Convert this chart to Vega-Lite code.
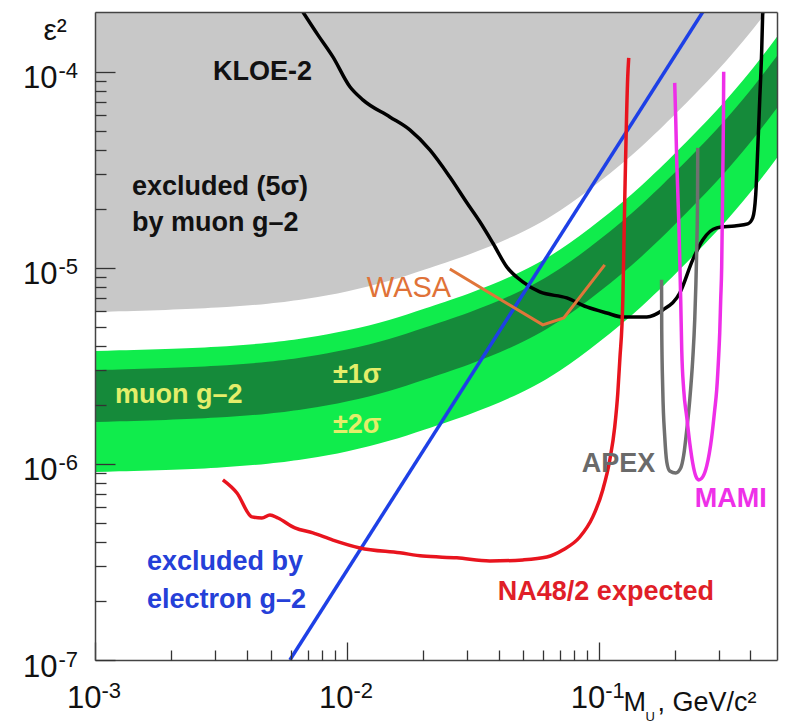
{
  "$schema": "https://vega.github.io/schema/vega-lite/v6.json",
  "width": 682,
  "height": 648,
  "autosize": {"type": "none"},
  "padding": {"left": 95, "top": 12, "right": 10, "bottom": 68},
  "background": "white",
  "config": {
    "view": {"stroke": null},
    "axis": {"labelFont": "Liberation Sans", "titleFont": "Liberation Sans", "grid": false, "labelOverlap": false, "labelFlush": false, "labelColor": "#111", "titleColor": "#111", "titleFontWeight": "normal", "tickColor": "#333", "domainColor": "#444", "domainWidth": 1.5, "tickWidth": 1.3}
  },
  "datasets": {
    "bands": [
      {"m": 0.001, "g": 5.96e-6, "lt": 3.77e-6, "dt": 3.01e-6, "db": 1.637e-6, "lb": 9.10e-7},
      {"m": 0.002, "g": 6.10e-6, "lt": 3.86e-6, "dt": 3.09e-6, "db": 1.676e-6, "lb": 9.31e-7},
      {"m": 0.003, "g": 6.25e-6, "lt": 3.95e-6, "dt": 3.16e-6, "db": 1.717e-6, "lb": 9.54e-7},
      {"m": 0.005, "g": 6.55e-6, "lt": 4.14e-6, "dt": 3.31e-6, "db": 1.799e-6, "lb": 1.00e-6},
      {"m": 0.007, "g": 6.95e-6, "lt": 4.40e-6, "dt": 3.52e-6, "db": 1.909e-6, "lb": 1.061e-6},
      {"m": 0.01, "g": 7.54e-6, "lt": 4.77e-6, "dt": 3.81e-6, "db": 2.071e-6, "lb": 1.151e-6},
      {"m": 0.015, "g": 8.59e-6, "lt": 5.43e-6, "dt": 4.34e-6, "db": 2.36e-6, "lb": 1.312e-6},
      {"m": 0.02, "g": 9.77e-6, "lt": 6.18e-6, "dt": 4.94e-6, "db": 2.684e-6, "lb": 1.492e-6},
      {"m": 0.03, "g": 1.151e-5, "lt": 7.28e-6, "dt": 5.82e-6, "db": 3.162e-6, "lb": 1.758e-6},
      {"m": 0.05, "g": 1.509e-5, "lt": 9.54e-6, "dt": 7.63e-6, "db": 4.145e-6, "lb": 2.304e-6},
      {"m": 0.07, "g": 1.931e-5, "lt": 1.221e-5, "dt": 9.77e-6, "db": 5.30e-6, "lb": 2.949e-6},
      {"m": 0.1, "g": 2.715e-5, "lt": 1.717e-5, "dt": 1.373e-5, "db": 7.46e-6, "lb": 4.146e-6},
      {"m": 0.15, "g": 4.19e-5, "lt": 2.65e-5, "dt": 2.119e-5, "db": 1.151e-5, "lb": 6.40e-6},
      {"m": 0.2, "g": 6.03e-5, "lt": 3.814e-5, "dt": 3.05e-5, "db": 1.656e-5, "lb": 9.21e-6},
      {"m": 0.3, "g": 1.024e-4, "lt": 6.48e-5, "dt": 5.18e-5, "db": 2.813e-5, "lb": 1.564e-5},
      {"m": 0.4, "g": 1.581e-4, "lt": 1.0e-4, "dt": 8.0e-5, "db": 4.34e-5, "lb": 2.414e-5},
      {"m": 0.51, "g": 2.385e-4, "lt": 1.509e-4, "dt": 1.206e-4, "db": 6.55e-5, "lb": 3.642e-5}
    ],
    "kloe": [
      {"m": 0.00669, "v": 2.02e-4}, {"m": 0.00767, "v": 1.544e-4}, {"m": 0.0088, "v": 1.192e-4},
      {"m": 0.01028, "v": 8.39e-5}, {"m": 0.01157, "v": 7.2e-5}, {"m": 0.01481, "v": 5.89e-5},
      {"m": 0.01778, "v": 5.06e-5}, {"m": 0.02135, "v": 4.0e-5}, {"m": 0.02563, "v": 2.91e-5},
      {"m": 0.02995, "v": 2.15e-5}, {"m": 0.03372, "v": 1.72e-5}, {"m": 0.03797, "v": 1.34e-5},
      {"m": 0.04313, "v": 1.012e-5}, {"m": 0.04993, "v": 8.48e-6}, {"m": 0.05833, "v": 7.54e-6},
      {"m": 0.07464, "v": 7.03e-6}, {"m": 0.08961, "v": 6.32e-6}, {"m": 0.1076, "v": 5.89e-6},
      {"m": 0.1246, "v": 5.62e-6}, {"m": 0.1551, "v": 5.62e-6}, {"m": 0.1795, "v": 6.10e-6},
      {"m": 0.2097, "v": 7.45e-6}, {"m": 0.236, "v": 1.099e-5}, {"m": 0.2587, "v": 1.389e-5},
      {"m": 0.2939, "v": 1.6e-5}, {"m": 0.3465, "v": 1.638e-5}, {"m": 0.3903, "v": 1.677e-5},
      {"m": 0.4085, "v": 1.799e-5}, {"m": 0.4198, "v": 2.357e-5}, {"m": 0.4276, "v": 4.0e-5},
      {"m": 0.4355, "v": 7.2e-5}, {"m": 0.4435, "v": 1.295e-4}, {"m": 0.4476, "v": 2.02e-4}
    ],
    "electron": [{"m": 0.00594, "v": 1.0e-7}, {"m": 0.2587, "v": 2.02e-4}],
    "na48": [
      {"m": 0.003219, "v": 8.29e-7}, {"m": 0.003661, "v": 7.11e-7}, {"m": 0.004198, "v": 5.37e-7},
      {"m": 0.0046, "v": 5.30e-7}, {"m": 0.004949, "v": 5.49e-7}, {"m": 0.005324, "v": 5.30e-7},
      {"m": 0.006218, "v": 4.72e-7}, {"m": 0.00733, "v": 4.45e-7}, {"m": 0.0088, "v": 4.09e-7},
      {"m": 0.01126, "v": 3.73e-7}, {"m": 0.01623, "v": 3.52e-7}, {"m": 0.02002, "v": 3.39e-7},
      {"m": 0.02732, "v": 3.32e-7}, {"m": 0.03694, "v": 3.20e-7}, {"m": 0.04993, "v": 3.24e-7},
      {"m": 0.06218, "v": 3.35e-7}, {"m": 0.07197, "v": 3.64e-7}, {"m": 0.08407, "v": 4.24e-7},
      {"m": 0.09467, "v": 5.37e-7}, {"m": 0.1037, "v": 7.37e-7}, {"m": 0.1106, "v": 1.048e-6},
      {"m": 0.1157, "v": 1.544e-6}, {"m": 0.119, "v": 2.30e-6}, {"m": 0.1212, "v": 3.39e-6},
      {"m": 0.1246, "v": 6.87e-6}, {"m": 0.1268, "v": 2.22e-5}, {"m": 0.1303, "v": 9.43e-5},
      {"m": 0.1315, "v": 1.18e-4}
    ],
    "wasa": [{"m": 0.02563, "v": 9.88e-6}, {"m": 0.05995, "v": 5.12e-6}, {"m": 0.07263, "v": 5.556e-6}, {"m": 0.1056, "v": 1.036e-5}],
    "apex": [
      {"m": 0.1775, "v": 8.69e-6}, {"m": 0.1778, "v": 4.83e-6}, {"m": 0.1795, "v": 2.385e-6},
      {"m": 0.1828, "v": 1.373e-6}, {"m": 0.1862, "v": 1.024e-6}, {"m": 0.1913, "v": 9.21e-7},
      {"m": 0.2021, "v": 9.0e-7}, {"m": 0.2115, "v": 9.54e-7}, {"m": 0.2174, "v": 1.111e-6},
      {"m": 0.2235, "v": 1.491e-6}, {"m": 0.2297, "v": 2.12e-6}, {"m": 0.236, "v": 3.394e-6},
      {"m": 0.2404, "v": 5.43e-6}, {"m": 0.2448, "v": 1.235e-5}, {"m": 0.2467, "v": 2.223e-5},
      {"m": 0.2471, "v": 4.095e-5}
    ],
    "mami": [
      {"m": 0.2002, "v": 8.79e-5}, {"m": 0.2021, "v": 5.69e-5}, {"m": 0.2039, "v": 3.556e-5},
      {"m": 0.2077, "v": 1.757e-5}, {"m": 0.2097, "v": 1.099e-5}, {"m": 0.2115, "v": 6.87e-6},
      {"m": 0.2135, "v": 3.816e-6}, {"m": 0.2174, "v": 2.385e-6}, {"m": 0.2235, "v": 1.737e-6},
      {"m": 0.2297, "v": 1.28e-6}, {"m": 0.236, "v": 1.012e-6}, {"m": 0.2426, "v": 8.69e-7},
      {"m": 0.2493, "v": 8.29e-7}, {"m": 0.2587, "v": 8.59e-7}, {"m": 0.2683, "v": 9.77e-7},
      {"m": 0.2808, "v": 1.373e-6}, {"m": 0.2886, "v": 1.886e-6}, {"m": 0.2939, "v": 2.385e-6},
      {"m": 0.2994, "v": 3.6e-6}, {"m": 0.3021, "v": 4.66e-6}, {"m": 0.3048, "v": 6.87e-6},
      {"m": 0.3076, "v": 1.012e-5}, {"m": 0.31, "v": 2.223e-5}, {"m": 0.311, "v": 3.276e-5},
      {"m": 0.3125, "v": 5.69e-5}, {"m": 0.3133, "v": 1.0e-4}
    ],
    "labels": [
      {"text": "KLOE-2", "m": 0.002939, "v": 9.10e-5, "grp": "KLOE"},
      {"text": "excluded (5σ)", "m": 0.001402, "v": 2.357e-5, "grp": "muon excl"},
      {"text": "by muon g–2", "m": 0.001402, "v": 1.545e-5, "grp": "muon excl"},
      {"text": "muon g–2", "m": 0.0012, "v": 2.047e-6, "grp": "muon band"},
      {"text": "±1σ", "m": 0.0088, "v": 2.591e-6, "grp": "muon band"},
      {"text": "±2σ", "m": 0.0088, "v": 1.439e-6, "grp": "muon band"},
      {"text": "APEX", "m": 0.08561, "v": 9.10e-7, "grp": "APEX"},
      {"text": "MAMI", "m": 0.2404, "v": 6.035e-7, "grp": "MAMI"},
      {"text": "NA48/2 expected", "m": 0.03974, "v": 2.023e-7, "grp": "NA48"},
      {"text": "excluded by", "m": 0.001608, "v": 2.878e-7, "grp": "electron"},
      {"text": "electron g–2", "m": 0.001608, "v": 1.842e-7, "grp": "electron"}
    ],
    "wasalabel": [{"text": "WASA", "m": 0.012, "v": 7.11e-6}]
  },
  "resolve": {"axis": {"x": "independent", "y": "independent"}},
  "layer": [
    {
      "data": {"name": "bands"},
      "mark": {"type": "area", "color": "#c8c8c8", "interpolate": "basis", "clip": true},
      "encoding": {
        "x": {"field": "m", "type": "quantitative", "scale": {"type": "log", "domain": [0.001, 0.51], "nice": false},
          "axis": {"orient": "bottom", "values": [0.001, 0.01, 0.1], "labelExpr": "'10'", "labelAlign": "right", "labelBaseline": "alphabetic", "labelOffset": 6, "labelPadding": 47, "labelFontSize": 31, "ticks": false, "domain": false,
            "title": "M", "titleX": 528, "titleY": 50, "titleAlign": "left", "titleBaseline": "alphabetic", "titleFontSize": 27, "titleAngle": 0}},
        "y": {"field": "g", "type": "quantitative", "scale": {"type": "log", "domain": [1e-7, 2.02e-4], "nice": false},
          "axis": {"orient": "left", "values": [1e-7, 1e-6, 1e-5, 1e-4], "labelExpr": "'10'", "labelAlign": "right", "labelBaseline": "alphabetic", "labelOffset": 16, "labelPadding": 38, "labelFontSize": 31, "ticks": false, "domain": false,
            "title": "ε²", "titleX": -52, "titleY": 27, "titleAngle": 0, "titleAlign": "left", "titleBaseline": "alphabetic", "titleFontSize": 30}},
        "y2": {"datum": 0.001}
      }
    },
    {
      "data": {"name": "bands"},
      "mark": {"type": "area", "color": "#10ec4c", "interpolate": "basis", "clip": true},
      "encoding": {
        "x": {"field": "m", "type": "quantitative", "scale": {"type": "log", "domain": [0.001, 0.51], "nice": false},
          "axis": {"orient": "bottom", "values": [0.001, 0.01, 0.1], "labelExpr": "datum.value < 0.005 ? '-3' : datum.value < 0.05 ? '-2' : '-1'", "labelAlign": "left", "labelBaseline": "alphabetic", "labelOffset": 6, "labelPadding": 37, "labelFontSize": 22, "ticks": false, "domain": false,
            "title": "U", "titleX": 550, "titleY": 60, "titleAlign": "left", "titleBaseline": "alphabetic", "titleFontSize": 13, "titleAngle": 0}},
        "y": {"field": "lb", "type": "quantitative", "scale": {"type": "log", "domain": [1e-7, 2.02e-4], "nice": false},
          "axis": {"orient": "left", "values": [1e-7, 1e-6, 1e-5, 1e-4], "labelExpr": "datum.value < 3e-7 ? '-7' : datum.value < 3e-6 ? '-6' : datum.value < 3e-5 ? '-5' : '-4'", "labelAlign": "left", "labelBaseline": "alphabetic", "labelOffset": 6, "labelPadding": 37, "labelFontSize": 22, "ticks": false, "domain": false, "title": null}},
        "y2": {"field": "lt"}
      }
    },
    {
      "data": {"name": "bands"},
      "mark": {"type": "area", "color": "#158a3a", "interpolate": "basis", "clip": true},
      "encoding": {
        "x": {"field": "m", "type": "quantitative", "scale": {"type": "log", "domain": [0.001, 0.51], "nice": false},
          "axis": {"orient": "bottom", "values": [0.001, 0.01, 0.1], "labels": false, "ticks": true, "tickSize": -18, "domain": true, "zindex": 1,
            "title": ", GeV/c²", "titleX": 562, "titleY": 50, "titleAlign": "left", "titleBaseline": "alphabetic", "titleFontSize": 27, "titleAngle": 0}},
        "y": {"field": "db", "type": "quantitative", "scale": {"type": "log", "domain": [1e-7, 2.02e-4], "nice": false},
          "axis": {"orient": "left", "values": [1e-7, 1e-6, 1e-5, 1e-4], "labels": false, "ticks": true, "tickSize": -20, "domain": true, "zindex": 1, "title": null}},
        "y2": {"field": "dt"}
      }
    },
    {
      "data": {"name": "kloe"},
      "mark": {"type": "line", "color": "#000000", "strokeWidth": 3.5, "interpolate": "monotone", "clip": true},
      "encoding": {
        "x": {"field": "m", "type": "quantitative", "scale": {"type": "log", "domain": [0.001, 0.51], "nice": false},
          "axis": {"orient": "bottom", "values": [0.002, 0.003, 0.004, 0.005, 0.006, 0.007, 0.008, 0.009, 0.02, 0.03, 0.04, 0.05, 0.06, 0.07, 0.08, 0.09, 0.2, 0.3, 0.4], "labels": false, "ticks": true, "tickSize": -10, "domain": false, "zindex": 1, "title": null}},
        "y": {"field": "v", "type": "quantitative", "scale": {"type": "log", "domain": [1e-7, 2.02e-4], "nice": false},
          "axis": {"orient": "left", "values": [2e-7, 3e-7, 4e-7, 5e-7, 6e-7, 7e-7, 8e-7, 9e-7, 2e-6, 3e-6, 4e-6, 5e-6, 6e-6, 7e-6, 8e-6, 9e-6, 2e-5, 3e-5, 4e-5, 5e-5, 6e-5, 7e-5, 8e-5, 9e-5], "labels": false, "ticks": true, "tickSize": -11, "domain": false, "zindex": 1, "title": null}}
      }
    },
    {
      "data": {"name": "electron"},
      "mark": {"type": "line", "color": "#1e40e6", "strokeWidth": 3.5, "clip": true},
      "encoding": {
        "x": {"field": "m", "type": "quantitative", "scale": {"type": "log", "domain": [0.001, 0.51], "nice": false},
          "axis": {"orient": "top", "labels": false, "ticks": false, "domain": true, "zindex": 1, "title": null}},
        "y": {"field": "v", "type": "quantitative", "scale": {"type": "log", "domain": [1e-7, 2.02e-4], "nice": false},
          "axis": {"orient": "right", "labels": false, "ticks": false, "domain": true, "zindex": 1, "title": null}}
      }
    },
    {
      "data": {"name": "wasa"},
      "mark": {"type": "line", "color": "#e0763a", "strokeWidth": 3, "clip": true},
      "encoding": {
        "x": {"field": "m", "type": "quantitative", "scale": {"type": "log", "domain": [0.001, 0.51], "nice": false}, "axis": null},
        "y": {"field": "v", "type": "quantitative", "scale": {"type": "log", "domain": [1e-7, 2.02e-4], "nice": false}, "axis": null}
      }
    },
    {
      "data": {"name": "na48"},
      "mark": {"type": "line", "color": "#e8141e", "strokeWidth": 3.5, "interpolate": "monotone", "clip": true},
      "encoding": {
        "x": {"field": "m", "type": "quantitative", "scale": {"type": "log", "domain": [0.001, 0.51], "nice": false}, "axis": null},
        "y": {"field": "v", "type": "quantitative", "scale": {"type": "log", "domain": [1e-7, 2.02e-4], "nice": false}, "axis": null}
      }
    },
    {
      "data": {"name": "apex"},
      "mark": {"type": "line", "color": "#707070", "strokeWidth": 3.5, "interpolate": "monotone", "clip": true},
      "encoding": {
        "x": {"field": "m", "type": "quantitative", "scale": {"type": "log", "domain": [0.001, 0.51], "nice": false}, "axis": null},
        "y": {"field": "v", "type": "quantitative", "scale": {"type": "log", "domain": [1e-7, 2.02e-4], "nice": false}, "axis": null}
      }
    },
    {
      "data": {"name": "mami"},
      "mark": {"type": "line", "color": "#ee2ee8", "strokeWidth": 3.5, "interpolate": "monotone", "clip": true},
      "encoding": {
        "x": {"field": "m", "type": "quantitative", "scale": {"type": "log", "domain": [0.001, 0.51], "nice": false}, "axis": null},
        "y": {"field": "v", "type": "quantitative", "scale": {"type": "log", "domain": [1e-7, 2.02e-4], "nice": false}, "axis": null}
      }
    },
    {
      "data": {"name": "labels"},
      "mark": {"type": "text", "align": "left", "baseline": "alphabetic", "font": "Liberation Sans", "fontSize": 27, "fontWeight": "bold"},
      "encoding": {
        "x": {"field": "m", "type": "quantitative", "scale": {"type": "log", "domain": [0.001, 0.51], "nice": false}, "axis": null},
        "y": {"field": "v", "type": "quantitative", "scale": {"type": "log", "domain": [1e-7, 2.02e-4], "nice": false}, "axis": null},
        "text": {"field": "text"},
        "color": {"field": "grp", "type": "nominal", "legend": null,
          "scale": {"domain": ["KLOE", "muon excl", "muon band", "APEX", "MAMI", "NA48", "electron"], "range": ["#111111", "#111111", "#e4ee6a", "#6a6a6a", "#ee30e8", "#e01e28", "#2540d8"]}}
      }
    },
    {
      "data": {"name": "wasalabel"},
      "mark": {"type": "text", "align": "left", "baseline": "alphabetic", "font": "Liberation Sans", "fontSize": 29, "color": "#e07238"},
      "encoding": {
        "x": {"field": "m", "type": "quantitative", "scale": {"type": "log", "domain": [0.001, 0.51], "nice": false}, "axis": null},
        "y": {"field": "v", "type": "quantitative", "scale": {"type": "log", "domain": [1e-7, 2.02e-4], "nice": false}, "axis": null},
        "text": {"field": "text"}
      }
    }
  ]
}
